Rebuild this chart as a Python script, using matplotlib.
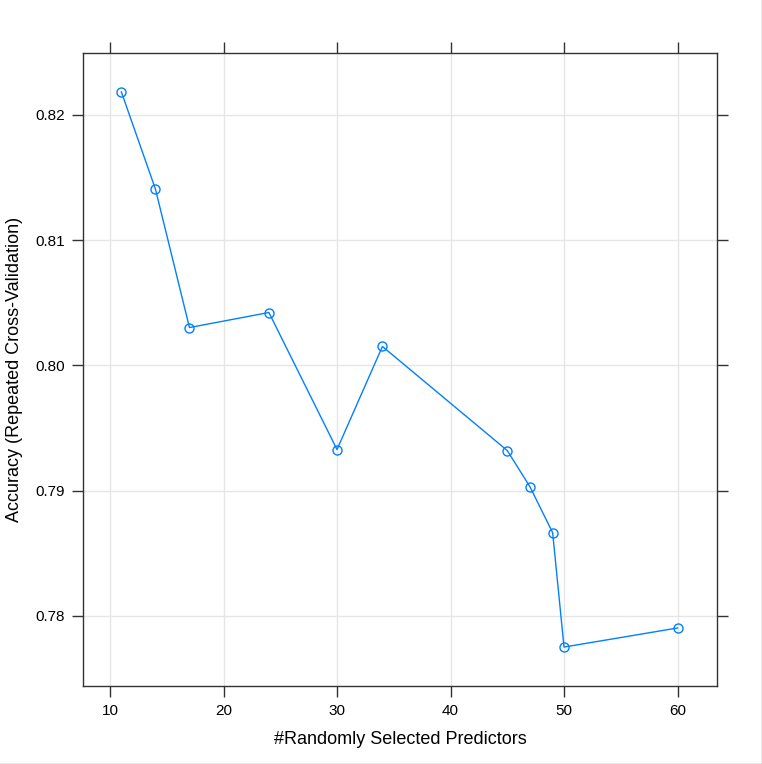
import matplotlib
matplotlib.use("Agg")
import matplotlib.pyplot as plt
from matplotlib.lines import Line2D

plt.rcParams['font.family'] = ['Liberation Sans', 'DejaVu Sans']

# number of randomly selected predictors (mtry) and CV accuracy
mtry = [11, 14, 17, 24, 30, 34, 45, 47, 49, 50, 60]
accuracy = [0.82184, 0.81409, 0.80303, 0.80423, 0.79329, 0.80152,
            0.79321, 0.79032, 0.78665, 0.77752, 0.77904]
x_ticks = [10, 20, 30, 40, 50, 60]
y_ticks = [0.78, 0.79, 0.80, 0.81, 0.82]

fig = plt.figure(figsize=(7.62, 7.64), dpi=100)
ax = fig.add_axes([83 / 762, 1 - 686 / 764, 634 / 762, 633 / 764])

ax.plot(mtry, accuracy, color='#0080ff', lw=1.0, marker='o', ms=6.5,
        mfc='none', mec='#0080ff', mew=1.0, zorder=3)

ax.set_xlim(7.62, 63.48)
ax.set_ylim(0.77441, 0.82495)
ax.set_xticks(x_ticks)
ax.set_yticks(y_ticks)
ax.set_yticklabels([f"{v:.2f}" for v in y_ticks])
ax.grid(True, color='#e6e6e6', lw=1.0, zorder=0)
ax.set_axisbelow(True)

for s in ax.spines.values():
    s.set_color('#333333')
    s.set_linewidth(1.0)

ax.tick_params(axis='both', which='both', direction='out', length=8, width=1.0,
               color='#333333', labelsize=11, labelcolor='black', pad=5,
               top=True, right=True, labeltop=False, labelright=False)

ax.set_xlabel('#Randomly Selected Predictors', fontsize=13, labelpad=9)
ax.set_ylabel('Accuracy (Repeated Cross-Validation)', fontsize=13, labelpad=9)

# thin window border at right and bottom edges
fig.add_artist(Line2D([761.5 / 762, 761.5 / 762], [0, 1], transform=fig.transFigure,
                      color='#999999', lw=1))
fig.add_artist(Line2D([0, 1], [0.5 / 764, 0.5 / 764], transform=fig.transFigure,
                      color='#999999', lw=1))

fig.savefig('out.png', dpi=100)
